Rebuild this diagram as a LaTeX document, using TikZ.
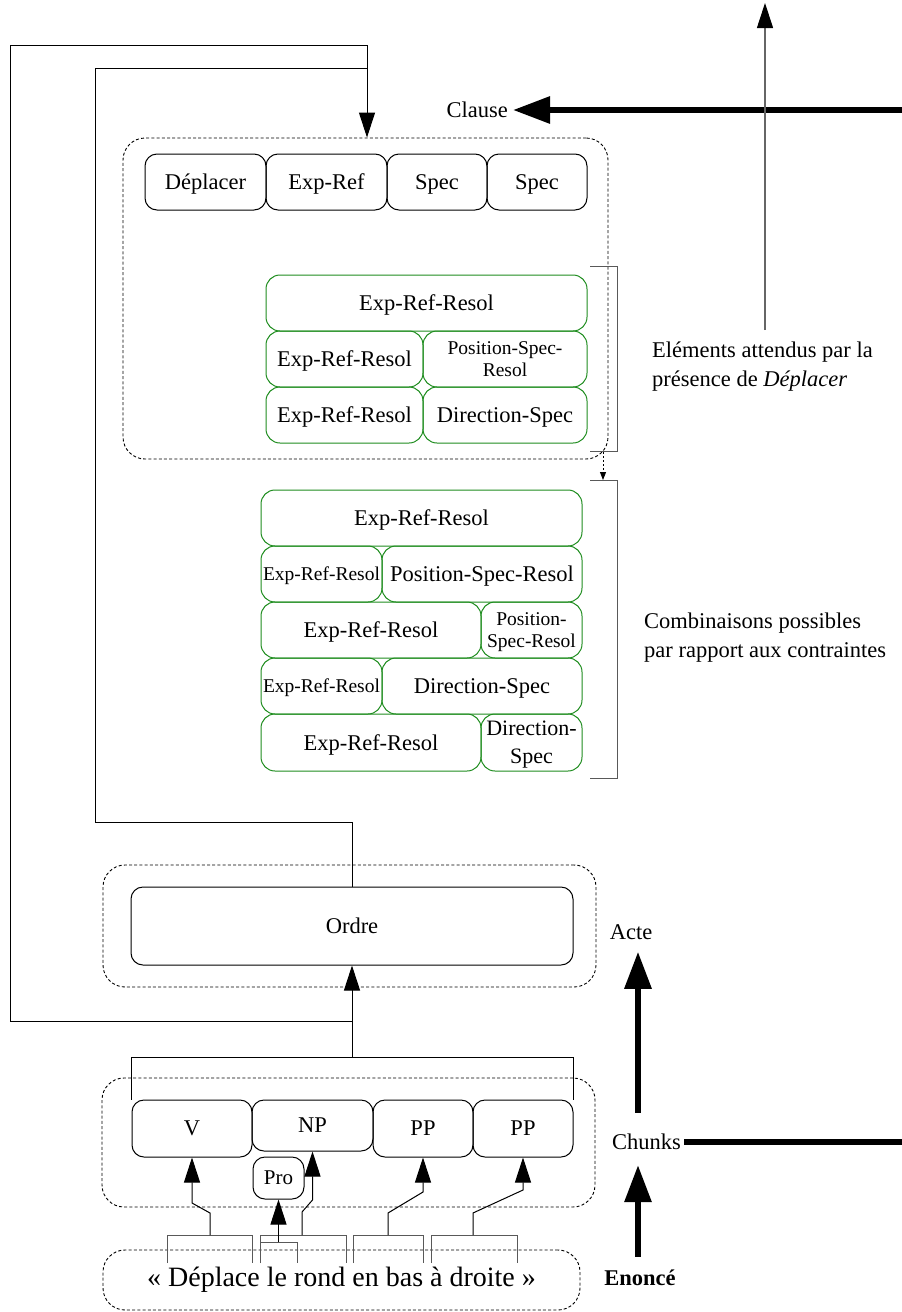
\documentclass[tikz,border=0pt]{standalone}
\usepackage{fontspec}
\setmainfont{Liberation Serif}
\usetikzlibrary{arrows.meta,calc}
\definecolor{grn}{RGB}{30,140,30}
\begin{document}
\begin{tikzpicture}[x=1pt,y=-1pt,
  every node/.style={font=\fontsize{22.5}{27}\selectfont},
  box/.style={draw=black, line width=1pt, rounded corners=12pt, inner sep=1pt, align=center, text depth=0pt},
  gbox/.style={draw=grn, line width=1pt, rounded corners=14pt, inner sep=1pt, align=center, text depth=0pt},
  grp/.style={draw=black, line width=0.9pt, dash pattern=on 3pt off 2.2pt, rounded corners=22pt, inner sep=0pt},
  small/.style={font=\fontsize{19.5}{21.5}\selectfont},
  conn/.style={line width=1pt, draw=black},
  arr/.style={conn, -{Triangle[length=25pt,width=16pt]}},
  bigarr/.style={line width=6pt, -{Triangle[length=37pt,width=26pt]}},
  brk/.style={line width=1pt, draw=black!65},
  lbl/.style={inner sep=3pt},
]
\useasboundingbox (0,0) rectangle (902,1312);

% ---------- group boxes ----------
\node[grp, minimum width=485pt, minimum height=321pt] (clausebox) at (365.5,298.5) {};
\node[grp, minimum width=493pt, minimum height=122pt] (actebox) at (349.5,926) {};
\node[grp, minimum width=493pt, minimum height=129pt] (chunkbox) at (348.5,1142.5) {};
\node[grp, minimum width=477pt, minimum height=60pt, font=\fontsize{28}{32}\selectfont] (enoncebox) at (341.5,1280) {« Déplace le rond en bas à droite »};

% ---------- top row ----------
\node[box, minimum width=121pt, minimum height=56pt] (dep) at (205.5,182) {Déplacer};
\node[box, minimum width=121pt, minimum height=56pt] (expref) at (326.5,182) {Exp-Ref};
\node[box, minimum width=100pt, minimum height=56pt] (spec1) at (437,182) {Spec};
\node[box, minimum width=100pt, minimum height=56pt] (spec2) at (537,182) {Spec};

% ---------- green block 1 ----------
\node[gbox, minimum width=321pt, minimum height=56pt] (g1a) at (426.5,303) {Exp-Ref-Resol};
\node[gbox, minimum width=157pt, minimum height=56pt] (g1b) at (344.5,359) {Exp-Ref-Resol};
\node[gbox, small, minimum width=164pt, minimum height=56pt] (g1c) at (505,359) {Position-Spec-\\Resol};
\node[gbox, minimum width=157pt, minimum height=56pt] (g1d) at (344.5,415) {Exp-Ref-Resol};
\node[gbox, minimum width=164pt, minimum height=56pt] (g1e) at (505,415) {Direction-Spec};

% ---------- green block 2 ----------
\node[gbox, minimum width=321pt, minimum height=56pt] (g2a) at (421.5,518) {Exp-Ref-Resol};
\node[gbox, small, minimum width=121pt, minimum height=56pt] (g2b) at (321.5,574) {Exp-Ref-Resol};
\node[gbox, minimum width=200pt, minimum height=56pt] (g2c) at (482,574) {Position-Spec-Resol};
\node[gbox, minimum width=220pt, minimum height=56pt] (g2d) at (371,630) {Exp-Ref-Resol};
\node[gbox, small, minimum width=101pt, minimum height=56pt] (g2e) at (531.5,630) {Position-\\Spec-Resol};
\node[gbox, small, minimum width=121pt, minimum height=56pt] (g2f) at (321.5,686) {Exp-Ref-Resol};
\node[gbox, minimum width=200pt, minimum height=56pt] (g2g) at (482,686) {Direction-Spec};
\node[gbox, minimum width=220pt, minimum height=57pt] (g2h) at (371,742.5) {Exp-Ref-Resol};
\node[gbox, minimum width=101pt, minimum height=57pt, font=\fontsize{22}{28}\selectfont] (g2i) at (531.5,742.5) {Direction-\\Spec};

% ---------- Ordre ----------
\node[box, minimum width=442pt, minimum height=78pt] (ordre) at (352,926) {Ordre};

% ---------- chunks ----------
\node[box, minimum width=120pt, minimum height=57pt] (V) at (192,1128.5) {V};
\node[box, minimum width=121pt, minimum height=51pt] (NP) at (312.5,1125.5) {NP};
\node[box, minimum width=100pt, minimum height=57pt] (PP1) at (423,1128.5) {PP};
\node[box, minimum width=100pt, minimum height=57pt] (PP2) at (523,1128.5) {PP};
\node[box, minimum width=51pt, minimum height=42pt, font=\fontsize{21}{24}\selectfont] (Pro) at (278.5,1178) {Pro};

% ---------- labels ----------
\node[lbl, anchor=east, inner sep=5pt] (clause) at (513,110) {Clause};
\node[lbl, anchor=west, align=left, font=\fontsize{22.5}{29}\selectfont] (elem) at (649,367) {Eléments attendus par la\\présence de \textit{Déplacer}};
\node[lbl, anchor=west, align=left, font=\fontsize{22.5}{29}\selectfont] (comb) at (641,637.5) {Combinaisons possibles\\par rapport aux contraintes};
\node[lbl] (acte) at (631,932) {Acte};
\node[lbl] (chunks) at (646.5,1142) {Chunks};
\node[lbl] (enonce) at (640,1278) {\textbf{Enoncé}};

% ---------- coordinates ----------
\coordinate (axis) at (638,0);
\coordinate (clR) at (902,110);
\coordinate (chR) at (902,1142);
\coordinate (tb) at (765,330);
\coordinate (tt) at (765,3);
\coordinate (cb) at (352,1057);
\coordinate (j1) at (352,1021);
\coordinate (L1) at (10,45);
\coordinate (j2) at (352,822);
\coordinate (L2) at (95,68);
\coordinate (m2) at (367,68);
\coordinate (tgt) at (clausebox.north -| 367,0);

% ---------- big arrows on the right ----------
\draw[bigarr] (clR) -- (clause.east);
\draw[line width=6pt] (chunks.east) -- (chR);
\draw[bigarr, shorten <=10pt, shorten >=12pt] (axis |- enonce.north) -- (axis |- chunks.south);
\draw[bigarr, shorten <=18pt, shorten >=9pt] (axis |- chunks.north) -- (axis |- acte.south);
\draw[line width=1.1pt, draw=black!60, -{Triangle[length=25pt,width=16pt,color=black]}] (tb) -- (tt);

% ---------- loops ----------
\draw[conn] (V.north west) |- (cb) -| (PP2.north east);
\draw[arr] (cb) -- (ordre.south);
\draw[arr] (j1) -| (L1) -| (tgt);
\draw[conn] (ordre.north) -- (j2) -| (L2) -- (m2);

% ---------- right brackets ----------
\coordinate (b1t) at (590,266);
\coordinate (b1b) at (590,451);
\coordinate (b2t) at (590,480);
\coordinate (b2b) at (590,778);
\draw[brk] (b1t) -- ++(27,0) |- (b1b);
\draw[brk] (b2t) -- ++(27,0) |- (b2b);
\coordinate (ds) at (603,452);
\draw[conn, line width=0.9pt, dash pattern=on 2pt off 2pt, -{Triangle[length=8pt,width=6pt]}] (ds) -- (ds |- b2t);

% ---------- word brackets ----------
\draw[brk] (167,1263) |- (252,1235) -- (252,1263);
\draw[brk] (260,1263) |- (346,1235) -- (346,1263);
\draw[brk] (260.5,1263) |- (297,1242) -- (297,1263);
\draw[brk] (353,1263) |- (423,1235) -- (423,1263);
\draw[brk] (431,1263) |- (517,1235) -- (517,1263);
\coordinate (w1) at (210,1235);
\coordinate (w2) at (302,1235);
\coordinate (w2i) at (278.5,1242);
\coordinate (w3) at (388,1235);
\coordinate (w4) at (473,1235);
\draw[arr] (w1) -- ++(0,-22) -- (192,1203) -- (V.south);
\draw[arr] (w2) -- ++(0,-23) -- (312.5,1200) -- (NP.south);
\draw[arr] (w2i) -- (Pro.south);
\draw[arr] (w3) -- ++(0,-22) -- (423,1192) -- (PP1.south);
\draw[arr] (w4) -- ++(0,-22) -- (523,1190) -- (PP2.south);
\end{tikzpicture}
\end{document}
